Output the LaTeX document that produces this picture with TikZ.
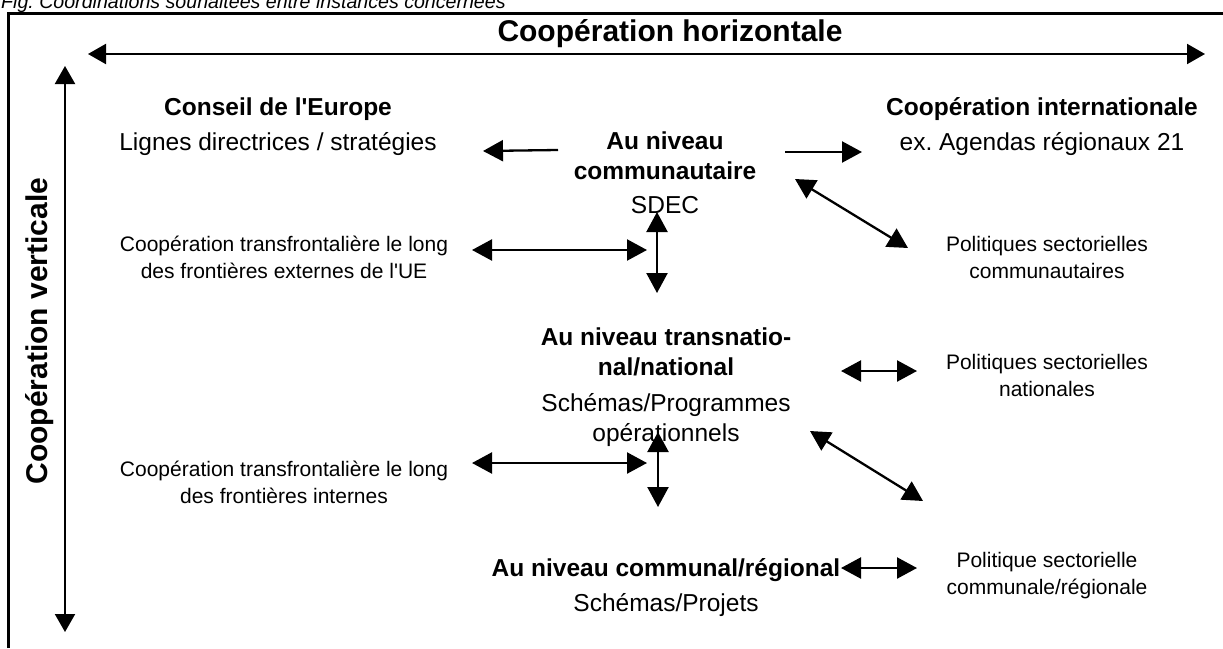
\documentclass[tikz,border=0pt]{standalone}
\usepackage{fontspec}
\setmainfont{Liberation Sans}
\usetikzlibrary{arrows.meta}
\frenchspacing

\tikzset{
  figcap/.style={font=\fontsize{19.6}{24}\selectfont\itshape, inner sep=0pt, anchor=base west},
  axislabel/.style={font=\fontsize{30}{36}\selectfont\bfseries, inner sep=0pt},
  lvl/.style={align=center, font=\fontsize{24.5}{30}\selectfont, inner sep=0pt},
  side/.style={align=center, font=\fontsize{21}{27}\selectfont, inner sep=0pt},
  link/.style={line width=2.3pt},
}

\begin{document}
\begin{tikzpicture}[x=1pt, y=-1pt, >={Triangle[length=20pt,width=21pt]}]
\useasboundingbox (0,0) rectangle (1223,648);
\begin{scope}
\clip (0,0) rectangle (1223,648);
\node[figcap] (fig) at (1,8.5) {Fig. Coordinations souhaitées entre instances concernées};
\end{scope}
% frame
\draw[line width=3pt] (8.5,648) -- (8.5,13) -- (1223,13);

% axes
\node[axislabel] (horiz) at (670,34) {Coopération horizontale};
\node[axislabel, rotate=90] (vert) at (40,331) {Coopération verticale};
\coordinate (hl) at (88,54);
\coordinate (hr) at (1205,54);
\coordinate (vt) at (65,66);
\coordinate (vb) at (65,632);
\draw[line width=2pt, <->, >={Triangle[length=18pt,width=20pt]}] (hl) -- (hr);
\draw[line width=2pt, <->, >={Triangle[length=18pt,width=20pt]}] (vt) -- (vb);

% top row
\node[lvl] (conseil) at (278,127) {\textbf{Conseil de l\textquotesingle Europe}\\[5pt]Lignes directrices / stratégies};
\node[lvl] (commu) at (665,173) {\textbf{Au niveau}\\\textbf{communautaire}\\[4pt]SDEC};
\node[lvl] (inter) at (1042,127) {\textbf{Coopération internationale}\\[5pt]ex. Agendas régionaux 21};

% second row
\node[side] (extern) at (284,257) {Coopération transfrontalière le long\\des frontières externes de l\textquotesingle UE};
\node[side] (polcom) at (1047,257) {Politiques sectorielles\\communautaires};

% national level
\node[lvl] (natio) at (666,387) {\textbf{Au niveau transnatio-}\\\textbf{nal/national}\\[6pt]Schémas/Programmes\\opérationnels};
\node[side] (polnat) at (1047,375) {Politiques sectorielles\\nationales};
\node[side] (intern) at (284,482) {Coopération transfrontalière le long\\des frontières internes};

% communal level
\node[lvl] (commune) at (666,588) {\textbf{Au niveau communal/régional}\\[5pt]Schémas/Projets};
\node[side] (polreg) at (1047,576) {Politique sectorielle\\communale/régionale};

% arrow ends
\coordinate (c1) at (558,150);  \coordinate (c2) at (483,151);
\coordinate (c3) at (785,152);  \coordinate (c4) at (862,152);
\coordinate (c5) at (795,179);  \coordinate (c6) at (908,248);
\coordinate (e1) at (472,250);  \coordinate (e2) at (647,250);
\coordinate (e3) at (657,212);  \coordinate (e4) at (657,293);
\coordinate (n1) at (841,371);  \coordinate (n2) at (917,371);
\coordinate (n3) at (810,431);  \coordinate (n4) at (923,501);
\coordinate (i1) at (472,463);  \coordinate (i2) at (647,463);
\coordinate (i3) at (658,432);  \coordinate (i4) at (658,507);
\coordinate (r1) at (841,568);  \coordinate (r2) at (917,568);

% arrows
\draw[link, ->] (c1) -- (c2);
\draw[link, ->] (c3) -- (c4);
\draw[link, <->] (c5) -- (c6);
\draw[link, <->] (e1) -- (e2);
\draw[link, <->] (e3) -- (e4);
\draw[link, <->] (n1) -- (n2);
\draw[link, <->] (n3) -- (n4);
\draw[link, <->] (i1) -- (i2);
\draw[link, <->] (i3) -- (i4);
\draw[link, <->] (r1) -- (r2);
\end{tikzpicture}
\end{document}
